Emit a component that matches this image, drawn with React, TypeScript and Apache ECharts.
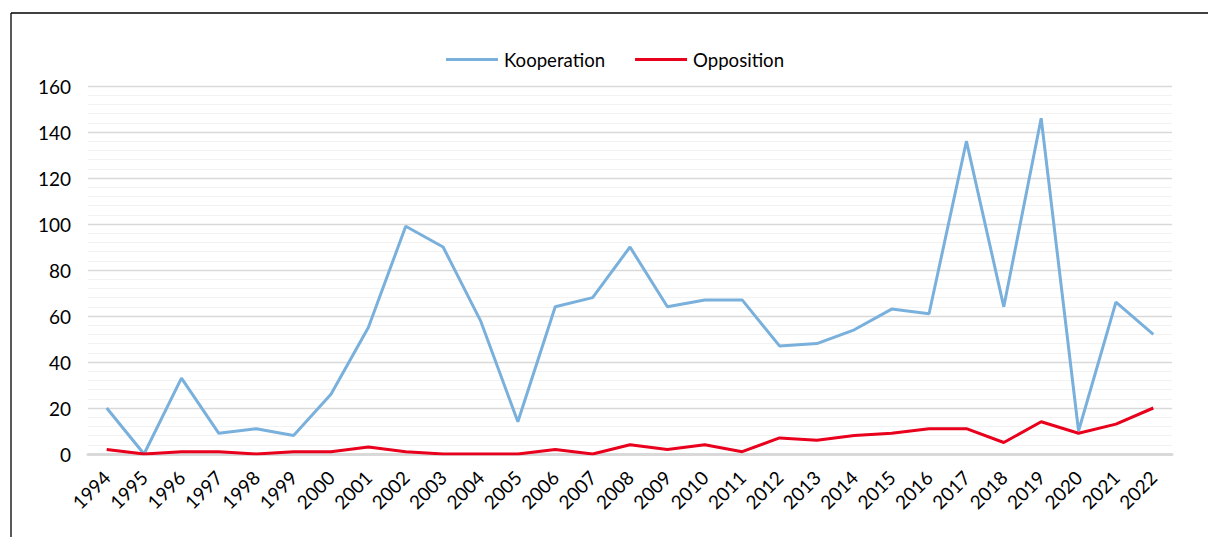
import React, { useEffect, useRef } from "react";
import * as echarts from "echarts";

const years = [
  "1994", "1995", "1996", "1997", "1998", "1999", "2000", "2001", "2002", "2003",
  "2004", "2005", "2006", "2007", "2008", "2009", "2010", "2011", "2012", "2013",
  "2014", "2015", "2016", "2017", "2018", "2019", "2020", "2021", "2022",
];
const kooperation = [
  20, 0, 33, 9, 11, 8, 26, 55, 99, 90,
  58, 14, 64, 68, 90, 64, 67, 67, 47, 48,
  54, 63, 61, 136, 64, 146, 10, 66, 52,
];
const opposition = [
  2, 0, 1, 1, 0, 1, 1, 3, 1, 0,
  0, 0, 2, 0, 4, 2, 4, 1, 7, 6,
  8, 9, 11, 11, 5, 14, 9, 13, 20,
];
const seriesNames = ["Kooperation", "Opposition"];

export default function App() {
  const ref = useRef<HTMLDivElement>(null);
  useEffect(() => {
    if (!ref.current) return;
    const chart = echarts.init(ref.current, null, { renderer: "svg" });
    const font = "Lato";
    chart.setOption({
      animation: false,
      backgroundColor: "#ffffff",
      textStyle: { fontFamily: font },
      graphic: [
        { type: "line", shape: { x1: 11, y1: 13, x2: 1208, y2: 13 }, style: { stroke: "#000", lineWidth: 1.3 } },
        { type: "line", shape: { x1: 11, y1: 13, x2: 11, y2: 537 }, style: { stroke: "#000", lineWidth: 1.3 } },
      ],
      legend: {
        top: 45,
        left: 441,
        itemWidth: 52,
        itemHeight: 3,
        itemGap: 30,
        icon: "rect",
        textStyle: { fontFamily: font, fontSize: 18.6, color: "#000000", padding: [0, 0, 0, 1] },
        data: seriesNames,
      },
      grid: { left: 88, right: 36, top: 86, bottom: 83, containLabel: false },
      xAxis: {
        type: "category",
        data: years,
        boundaryGap: true,
        axisLine: { show: true, lineStyle: { color: "#d9d9d9", width: 3 } },
        axisTick: { show: false },
        axisLabel: {
          rotate: 45,
          fontFamily: font,
          fontSize: 19,
          color: "#000000",
          margin: 20,
          interval: 0,
        },
      },
      yAxis: {
        type: "value",
        min: 0,
        max: 160,
        interval: 20,
        axisLine: { show: false },
        axisTick: { show: false },
        axisLabel: { fontFamily: font, fontSize: 19, color: "#000000", margin: 17 },
        splitLine: { show: true, lineStyle: { color: "#d9d9d9", width: 1.3 } },
        minorTick: { show: false, splitNumber: 5 },
        minorSplitLine: { show: true, lineStyle: { color: "#f2f2f2", width: 1 } },
      },
      series: [
        {
          name: seriesNames[0],
          type: "line",
          data: kooperation,
          symbol: "none",
          lineStyle: { color: "#79b0dc", width: 3 },
          itemStyle: { color: "#79b0dc" },
          z: 2,
        },
        {
          name: seriesNames[1],
          type: "line",
          data: opposition,
          symbol: "none",
          lineStyle: { color: "#e8001c", width: 3 },
          itemStyle: { color: "#e8001c" },
          z: 3,
        },
      ],
    });
    return () => chart.dispose();
  }, []);
  return (
    <div
      ref={ref}
      style={{ position: "absolute", left: 0, top: 0, width: 1208, height: 537 }}
    />
  );
}
